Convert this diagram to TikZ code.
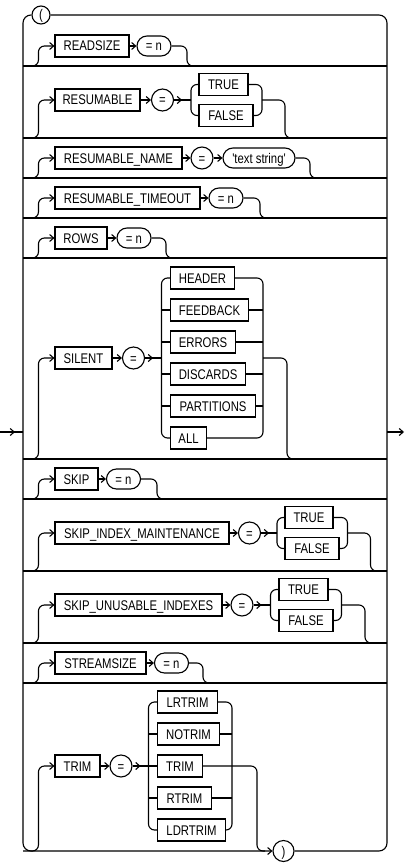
\documentclass[tikz,border=0pt]{standalone}
\usepackage{fontspec}
\newfontfamily\rrfont[FakeStretch=0.81]{Liberation Sans}
\usetikzlibrary{arrows.meta,shapes.misc}
\begin{document}
\begin{tikzpicture}[x=1pt,y=-1pt,line width=1.1pt,
  every node/.style={font=\rrfont\fontsize{14}{16}\selectfont,text height=10pt,text depth=0pt,inner sep=0pt},
  kw/.style={draw,rectangle,minimum height=22pt},
  ov/.style={draw,rounded rectangle,minimum height=20pt},
  ci/.style={draw,circle,minimum size=22pt},
  arr/.style={-{Straight Barb[length=4pt,width=7pt]}},
  rc/.style={rounded corners=6pt}]
\useasboundingbox (0,0) rectangle (406,864);

% ---------- outer loop ----------
\node[ci,minimum size=18pt] (lp) at (41,15) {(};
\node[ci,minimum size=21pt] (rp) at (283.5,851) {)};
\coordinate (in) at (0,432);
\coordinate (inL) at (23,432);
\coordinate (inT) at (15,432);
\coordinate (outR) at (387,432);
\coordinate (out) at (404,432);
\coordinate (Lb) at (23,851);
\draw (in) -- (inL);
\draw[arr] (in) -- (inT);
\draw[arr] (outR) -- (out);
\draw[rounded corners=8pt,arr] (lp.west) -| (Lb) -- (rp.west);
\draw[rounded corners=8pt] (lp.east) -| (387,851) -- (rp.east);

\foreach \y [count=\i] in {66,138,178,218,258,459,499,571,643,683}{
  \coordinate (L\i) at (23,\y);
  \coordinate (R\i) at (387,\y);
  \draw (L\i) -- (R\i);
}

% ---------- row 1: READSIZE ----------
\node[kw,minimum width=74pt] (rs) at (92,46) {READSIZE};
\node[ov,minimum width=34pt] (rsn) at (154,46) {= n};
\draw[arr,rc] (L1) -| ([xshift=-16pt]rs.west) -- (rs.west);
\draw[arr] (rs) -- (rsn);
\draw[rc] (rsn.east) -| (187,66) -- (195,66);

% ---------- row 2: RESUMABLE ----------
\node[kw,minimum width=85pt] (rm) at (97.5,100) {RESUMABLE};
\node[ci] (rme) at (162.5,100) {=};
\node[kw,minimum width=49pt] (rmt) at (223.5,84.5) {TRUE};
\node[kw,minimum width=54pt] (rmf) at (226,115.5) {FALSE};
\coordinate (rml) at (191,100);
\coordinate (rmr) at (262,100);
\draw[arr,rc] (L2) -| ([xshift=-16pt]rm.west) -- (rm.west);
\draw[arr] (rm) -- (rme);
\draw (rme) -- (rml);
\draw[arr] (rme.east) -- +(8,0);
\draw[rc] (rmt.west) -| (rml |- rmf) -- (rmf.west);
\draw[rc] (rmt.east) -| (rmr |- rmf) -- (rmf.east);
\draw[rc] (rmr) -| (285,138) -- (293,138);

% ---------- row 3: RESUMABLE_NAME ----------
\node[kw,minimum width=127pt] (rn) at (118.5,158) {RESUMABLE\_NAME};
\node[ci] (rne) at (202,158) {=};
\node[ov,minimum width=72pt] (rns) at (259,158) {'text string'};
\draw[arr,rc] (L3) -| ([xshift=-16pt]rn.west) -- (rn.west);
\draw[arr] (rn) -- (rne);
\draw[arr] (rne) -- (rns);
\draw[rc] (rns.east) -| (310,178) -- (318,178);

% ---------- row 4: RESUMABLE_TIMEOUT ----------
\node[kw,minimum width=145pt] (rt) at (127.5,198) {RESUMABLE\_TIMEOUT};
\node[ov,minimum width=34pt] (rtn) at (226,198) {= n};
\draw[arr,rc] (L4) -| ([xshift=-16pt]rt.west) -- (rt.west);
\draw[arr] (rt) -- (rtn);
\draw[rc] (rtn.east) -| (260,218) -- (268,218);

% ---------- row 5: ROWS ----------
\node[kw,minimum width=52pt] (ro) at (81,238) {ROWS};
\node[ov,minimum width=34pt] (ron) at (134,238) {= n};
\draw[arr,rc] (L5) -| ([xshift=-16pt]ro.west) -- (ro.west);
\draw[arr] (ro) -- (ron);
\draw[rc] (ron.east) -| (166,258) -- (174,258);

% ---------- row 6: SILENT ----------
\node[kw,minimum width=57pt] (si) at (83.5,358) {SILENT};
\node[ci] (se) at (133.5,358) {=};
\node[kw,minimum width=64pt,anchor=west] (s1) at (170,278) {HEADER};
\node[kw,minimum width=78pt,anchor=west] (s2) at (170,310) {FEEDBACK};
\node[kw,minimum width=65pt,anchor=west] (s3) at (170,342) {ERRORS};
\node[kw,minimum width=75pt,anchor=west] (s4) at (170,374) {DISCARDS};
\node[kw,minimum width=85pt,anchor=west] (s5) at (170,406) {PARTITIONS};
\node[kw,minimum width=36pt,anchor=west] (s6) at (170,438) {ALL};
\coordinate (sl) at (161.5,358);
\coordinate (sr) at (263,358);
\draw[arr,rc] (L6) -| ([xshift=-16pt]si.west) -- (si.west);
\draw[arr] (si) -- (se);
\draw (se) -- (sl);
\draw[arr] (se.east) -- +(8,0);
\draw[rc] (s1.west) -| (sl |- s6) -- (s6.west);
\draw[rc] (s1.east) -| (sr |- s6) -- (s6.east);
\foreach \k in {2,...,5}{
  \draw (sl |- s\k) -- (s\k.west);
  \draw (s\k.east) -- (sr |- s\k);
}
\draw[rc] (sr) -| (287,459) -- (295,459);

% ---------- row 7: SKIP ----------
\node[kw,minimum width=43pt] (sk) at (76.5,479) {SKIP};
\node[ov,minimum width=34pt] (skn) at (123.5,479) {= n};
\draw[arr,rc] (L7) -| ([xshift=-16pt]sk.west) -- (sk.west);
\draw[arr] (sk) -- (skn);
\draw[rc] (skn.east) -| (157,499) -- (165,499);

% ---------- row 8: SKIP_INDEX_MAINTENANCE ----------
\node[kw,minimum width=174pt] (sm) at (142,533) {SKIP\_INDEX\_MAINTENANCE};
\node[ci] (sme) at (249.5,533) {=};
\node[kw,minimum width=48pt] (smt) at (309,517.5) {TRUE};
\node[kw,minimum width=54pt] (smf) at (312,548.5) {FALSE};
\coordinate (sml) at (277,533);
\coordinate (smr) at (347.5,533);
\draw[arr,rc] (L8) -| ([xshift=-16pt]sm.west) -- (sm.west);
\draw[arr] (sm) -- (sme);
\draw (sme) -- (sml);
\draw[arr] (sme.east) -- +(8,0);
\draw[rc] (smt.west) -| (sml |- smf) -- (smf.west);
\draw[rc] (smt.east) -| (smr |- smf) -- (smf.east);
\draw[rc] (smr) -| (370.5,571) -- (378,571);

% ---------- row 9: SKIP_UNUSABLE_INDEXES ----------
\node[kw,minimum width=167pt] (su) at (138.5,605) {SKIP\_UNUSABLE\_INDEXES};
\node[ci] (sue) at (242,605) {=};
\node[kw,minimum width=49pt] (sut) at (303.5,589.5) {TRUE};
\node[kw,minimum width=54pt] (suf) at (306,620.5) {FALSE};
\coordinate (sul) at (270.5,605);
\coordinate (sur) at (341.5,605);
\draw[arr,rc] (L9) -| ([xshift=-16pt]su.west) -- (su.west);
\draw[arr] (su) -- (sue);
\draw (sue) -- (sul);
\draw[arr] (sue.east) -- +(8,0);
\draw[rc] (sut.west) -| (sul |- suf) -- (suf.west);
\draw[rc] (sut.east) -| (sur |- suf) -- (suf.east);
\draw[rc] (sur) -| (365,643) -- (373,643);

% ---------- row 10: STREAMSIZE ----------
\node[kw,minimum width=91pt] (ss) at (100.5,663) {STREAMSIZE};
\node[ov,minimum width=34pt] (ssn) at (171.5,663) {= n};
\draw[arr,rc] (L10) -| ([xshift=-16pt]ss.west) -- (ss.west);
\draw[arr] (ss) -- (ssn);
\draw[rc] (ssn.east) -| (203,683) -- (211,683);

% ---------- row 11: TRIM ----------
\node[kw,minimum width=45pt] (tm) at (77.5,766) {TRIM};
\node[ci] (te) at (121,766) {=};
\node[kw,minimum width=60pt,anchor=west] (t1) at (157,702) {LRTRIM};
\node[kw,minimum width=62pt,anchor=west] (t2) at (157,734) {NOTRIM};
\node[kw,minimum width=45pt,anchor=west] (t3) at (157,766) {TRIM};
\node[kw,minimum width=54pt,anchor=west] (t4) at (157,798) {RTRIM};
\node[kw,minimum width=68pt,anchor=west] (t5) at (157,830) {LDRTRIM};
\coordinate (tl) at (148.5,766);
\coordinate (tr) at (232,766);
\draw[arr,rc] (Lb) -| ([xshift=-16pt]tm.west) -- (tm.west);
\draw[arr] (tm) -- (te);
\draw (te) -- (tl);
\draw[arr] (te.east) -- +(8,0);
\draw[rc] (t1.west) -| (tl |- t5) -- (t5.west);
\draw[rc] (t1.east) -| (tr |- t5) -- (t5.east);
\foreach \k in {2,3,4}{
  \draw (tl |- t\k) -- (t\k.west);
}
\foreach \k in {2,4}{
  \draw (t\k.east) -- (tr |- t\k);
}
\draw[rc] (t3.east) -| (257,851) -- (265,851);
\end{tikzpicture}
\end{document}
